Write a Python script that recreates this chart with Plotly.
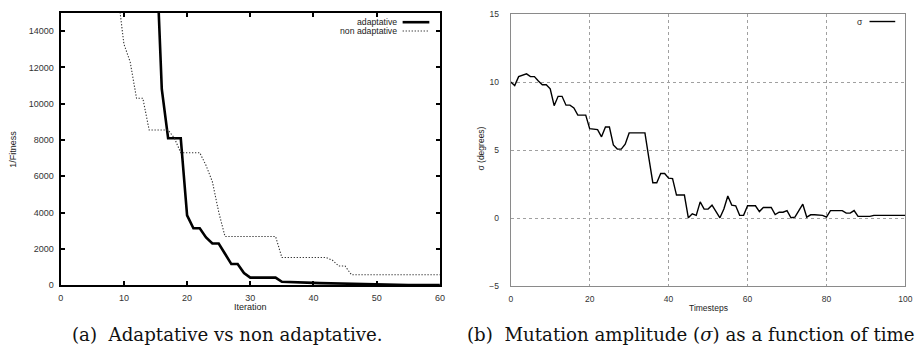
import plotly.graph_objects as go

# ---------------- data ----------------
iter_adapt = list(range(15, 61))
fit_adapt = [19500, 10800, 8100, 8100, 8100, 3840, 3130, 3130, 2630, 2290,
             2290, 1730, 1160, 1160, 660, 410, 410, 410, 410, 410,
             180, 160, 150, 140, 130, 120, 110, 100, 95, 90,
             85, 60, 50, 40, 30, 20, 15, 12, 10, 8,
             6, 5, 4, 3, 2, 1]

iter_nonadapt = list(range(9, 61))
fit_nonadapt = [16200, 13300, 12300, 10300, 10300, 8550, 8550, 8550, 8550, 8100,
                7300, 7300, 7300, 7300, 6600, 5700, 4030, 2680, 2680, 2680,
                2680, 2680, 2680, 2680, 2680, 2680, 1517, 1517, 1517, 1517,
                1517, 1517, 1517, 1517, 1370, 1050, 1050, 570, 570, 570,
                570, 570, 570, 570, 570, 570, 570, 570, 570, 570,
                570, 570]

timesteps = list(range(0, 101))
sigma = [10.0, 9.74, 10.4, 10.5, 10.6, 10.4, 10.4, 10.07, 9.8, 9.8,
         9.5, 8.26, 8.95, 8.95, 8.3, 8.3, 8.1, 7.57, 7.57, 7.57,
         6.57, 6.55, 6.5, 5.97, 6.69, 6.69, 5.38, 5.07, 5.07, 5.43,
         6.26, 6.26, 6.26, 6.26, 6.26, 4.4, 2.6, 2.6, 3.28, 3.28,
         2.93, 2.9, 1.69, 1.69, 1.69, 0.02, 0.31, 0.2, 1.19, 0.66,
         0.66, 0.95, 0.43, 0.02, 0.66, 1.62, 0.95, 0.9, 0.2, 0.2,
         0.9, 0.9, 0.9, 0.48, 0.78, 0.78, 0.78, 0.26, 0.43, 0.43,
         0.55, 0.02, 0.07, 0.55, 1.02, 0.07, 0.24, 0.24, 0.24, 0.2,
         0.07, 0.55, 0.55, 0.55, 0.55, 0.36, 0.36, 0.55, 0.12, 0.12,
         0.12, 0.12, 0.2, 0.2, 0.2, 0.2, 0.2, 0.2, 0.2, 0.2,
         0.2]

left_xticks = [0, 10, 20, 30, 40, 50, 60]
left_yticks = [0, 2000, 4000, 6000, 8000, 10000, 12000, 14000]
right_xticks = [0, 20, 40, 60, 80, 100]
right_yticks = [-5, 0, 5, 10, 15]

W, H = 923, 351
def px(x):
    return x / W
def py(y):
    return (H - y) / H

SANS = "Liberation Sans, Arial, sans-serif"
SERIF = "DejaVu Serif, serif"

fig = go.Figure()

fig.add_trace(go.Scatter(x=iter_adapt, y=fit_adapt, mode="lines",
                         line=dict(color="black", width=2.6),
                         xaxis="x", yaxis="y", showlegend=False))
fig.add_trace(go.Scatter(x=iter_nonadapt, y=fit_nonadapt, mode="lines",
                         line=dict(color="#333333", width=1.1, dash="1.3px,1.7px"),
                         xaxis="x", yaxis="y", showlegend=False))
fig.add_trace(go.Scatter(x=timesteps, y=sigma, mode="lines",
                         line=dict(color="black", width=1.4),
                         xaxis="x2", yaxis="y2", showlegend=False))

left_common = dict(showline=True, linewidth=2, linecolor="black", mirror="ticks",
                   ticks="inside", ticklen=4, tickwidth=1.5, tickcolor="black",
                   showgrid=False, zeroline=False, tickformat="d",
                   tickfont=dict(family=SANS, size=9, color="#333333"))
right_common = dict(showline=True, linewidth=1, linecolor="#8a8a8a", mirror=True,
                    ticks="", showgrid=True, gridcolor="#a0a0a0", gridwidth=1,
                    griddash="dot", zeroline=False, tickformat="d",
                    tickfont=dict(family=SANS, size=8.5, color="#333333"))

fig.update_layout(
    width=W, height=H,
    margin=dict(l=0, r=0, t=0, b=0),
    paper_bgcolor="white", plot_bgcolor="white",
    xaxis=dict(domain=[px(58.3), px(441.7)], range=[0, 60],
               tickvals=left_xticks, ticklabelstandoff=3, anchor="y", **left_common),
    yaxis=dict(domain=[py(288.3), py(8.3)], range=[0, 15000],
               tickvals=left_yticks, ticklabelstandoff=3, anchor="x", **left_common),
    xaxis2=dict(domain=[px(513.3), px(912.3)], range=[0, 100],
                tickvals=right_xticks, ticklabelstandoff=5, anchor="y2", **right_common),
    yaxis2=dict(domain=[py(289.3), py(9.3)], range=[-5, 15],
                tickvals=right_yticks, ticklabelstandoff=9, anchor="x2", **right_common),
)

def note(text, x, y, size, family=SANS, xanchor="center", angle=0, color="#222"):
    return dict(text=text, x=px(x), y=py(y), xref="paper", yref="paper",
                xanchor=xanchor, yanchor="middle", textangle=angle, showarrow=False,
                font=dict(family=family, size=size, color=color))

ann = [
    note("Iteration", 250, 311, 9),
    note("1/Fitness", 10, 148, 9, angle=-90),
    note("Timesteps", 713, 312, 8.5),
    note("σ (degrees)", 483, 148, 8.5, angle=-90),
    note("adaptative", 400, 17.7, 8.7, xanchor="right"),
    note("non adaptative", 400, 26.7, 8.7, xanchor="right"),
    note("σ", 871, 17, 8.5, xanchor="right"),
    note("(a)\u00a0\u00a0Adaptative vs non adaptative.", 68, 339, 18.2,
         family=SERIF, xanchor="left", color="#111"),
    note("(b)\u00a0\u00a0Mutation amplitude (<i>σ</i>) as a function of time", 467, 339, 18.2,
         family=SERIF, xanchor="left", color="#111"),
]

shapes = [
    dict(type="rect", xref="paper", yref="paper", x0=px(822), x1=px(910),
         y0=py(22), y1=py(10), fillcolor="white", line=dict(width=0), layer="between"),
    dict(type="line", xref="paper", yref="paper", x0=px(404), x1=px(431),
         y0=py(17.7), y1=py(17.7), line=dict(color="black", width=2.6)),
    dict(type="line", xref="paper", yref="paper", x0=px(404), x1=px(431),
         y0=py(26.7), y1=py(26.7), line=dict(color="#333333", width=1.1, dash="1.3px,1.7px")),
    dict(type="line", xref="paper", yref="paper", x0=px(876), x1=px(902),
         y0=py(17), y1=py(17), line=dict(color="black", width=1.4)),
]

fig.update_layout(annotations=ann, shapes=shapes)
fig.write_html("out.html")
